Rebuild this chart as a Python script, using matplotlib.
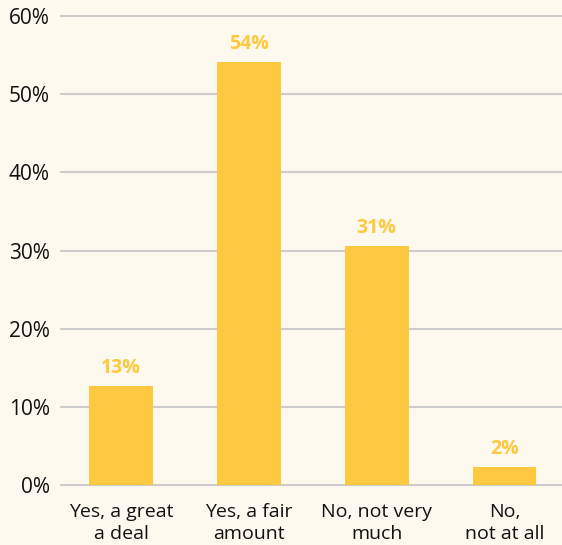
import matplotlib
matplotlib.use("Agg")
import matplotlib.pyplot as plt

categories = ["Yes, a great\na deal", "Yes, a fair\namount", "No, not very\nmuch", "No,\nnot at all"]
values = [12.7, 54.1, 30.6, 2.3]
yticks = [0, 10, 20, 30, 40, 50, 60]

bg = "#FEF9EE"
bar_color = "#FEC841"
label_color = "#FDC93F"
grid_color = "#CCCCCC"
font = ["Open Sans", "DejaVu Sans"]

fig = plt.figure(figsize=(5.62, 5.45), dpi=100, facecolor=bg)
ax = fig.add_axes([0.1085, 0.110, 0.8915, 0.8606], facecolor=bg)

x = range(len(categories))
ax.bar(x, values, width=0.5, color=bar_color, zorder=3)

for xi, v in zip(x, values):
    ax.annotate(f"{v:.0f}%", (xi, v), xytext=(0, 8), textcoords="offset pixels",
                ha="center", va="bottom", color=label_color, fontsize=14,
                fontweight="bold", family=font)

ax.set_xlim(-0.47, 3.45)
ax.set_ylim(0, 60)
ax.set_yticks(yticks)
ax.set_yticklabels([f"{t}%" for t in yticks], family=font, fontsize=15, color="#111111")
ax.set_xticks(list(x))
ax.set_xticklabels(categories, family=font, fontsize=14, color="#111111", linespacing=1.3)
ax.tick_params(axis="y", length=0, pad=8)
ax.tick_params(axis="x", length=0, pad=13)

ax.grid(axis="y", color=grid_color, linewidth=1.5, zorder=0)
ax.set_axisbelow(True)
for s in ax.spines.values():
    s.set_visible(False)
for gl in ax.get_ygridlines():
    gl.set_clip_on(False)

fig.savefig("out.png", dpi=100, facecolor=bg)
